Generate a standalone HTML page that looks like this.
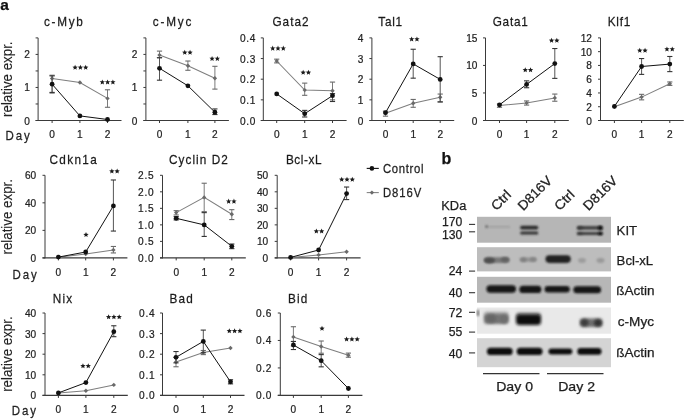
<!DOCTYPE html>
<html><head><meta charset="utf-8"><style>
html,body{margin:0;padding:0;background:#fff;}
body{width:685px;height:419px;overflow:hidden;}
svg{display:block;font-family:"Liberation Sans", sans-serif;will-change:transform;}
</style></head><body>
<svg width="685" height="419" viewBox="0 0 685 419">
<rect width="685" height="419" fill="#fff"/>
<line x1="38.1" y1="37.9" x2="38.1" y2="121.0" stroke="#3a3a3a" stroke-width="1"/>
<line x1="35.6" y1="120.5" x2="38.1" y2="120.5" stroke="#3a3a3a" stroke-width="1"/>
<line x1="35.6" y1="103.98" x2="38.1" y2="103.98" stroke="#3a3a3a" stroke-width="1"/>
<line x1="35.6" y1="87.46000000000001" x2="38.1" y2="87.46000000000001" stroke="#3a3a3a" stroke-width="1"/>
<line x1="35.6" y1="70.94" x2="38.1" y2="70.94" stroke="#3a3a3a" stroke-width="1"/>
<line x1="35.6" y1="54.42" x2="38.1" y2="54.42" stroke="#3a3a3a" stroke-width="1"/>
<line x1="35.6" y1="37.900000000000006" x2="38.1" y2="37.900000000000006" stroke="#3a3a3a" stroke-width="1"/>
<text transform="translate(29.80,124.50) scale(0.88,1)" font-size="11.5" text-anchor="end" fill="#222" stroke="#222" stroke-width="0.25">0</text>
<text transform="translate(29.80,91.46) scale(0.88,1)" font-size="11.5" text-anchor="end" fill="#222" stroke="#222" stroke-width="0.25">1</text>
<text transform="translate(29.80,58.42) scale(0.88,1)" font-size="11.5" text-anchor="end" fill="#222" stroke="#222" stroke-width="0.25">2</text>
<line x1="35.6" y1="120.5" x2="121.5" y2="120.5" stroke="#3a3a3a" stroke-width="1.2"/>
<line x1="52.1" y1="120.5" x2="52.1" y2="123.0" stroke="#3a3a3a" stroke-width="1"/>
<text transform="translate(52.1,138.30) scale(0.88,1)" font-size="11.5" text-anchor="middle" fill="#222" stroke="#222" stroke-width="0.25">0</text>
<line x1="79.9" y1="120.5" x2="79.9" y2="123.0" stroke="#3a3a3a" stroke-width="1"/>
<text transform="translate(79.9,138.30) scale(0.88,1)" font-size="11.5" text-anchor="middle" fill="#222" stroke="#222" stroke-width="0.25">1</text>
<line x1="107.5" y1="120.5" x2="107.5" y2="123.0" stroke="#3a3a3a" stroke-width="1"/>
<text transform="translate(107.5,138.30) scale(0.88,1)" font-size="11.5" text-anchor="middle" fill="#222" stroke="#222" stroke-width="0.25">2</text>
<text transform="translate(43.9,26) scale(0.87,1)" font-size="13.5" fill="#1a1a1a" stroke="#1a1a1a" stroke-width="0.25" textLength="44.83" lengthAdjust="spacing">c-Myb</text>
<polyline points="52.1,78.5 79.9,82.5 107.5,98.4" fill="none" stroke="#7e7e7e" stroke-width="1.05"/>
<line x1="52.1" y1="75.23519999999999" x2="52.1" y2="93.0768" stroke="#7a7a7a" stroke-width="1"/>
<line x1="49.5" y1="75.23519999999999" x2="54.7" y2="75.23519999999999" stroke="#6a6a6a" stroke-width="1.1"/>
<line x1="49.5" y1="93.0768" x2="54.7" y2="93.0768" stroke="#6a6a6a" stroke-width="1.1"/>
<line x1="107.5" y1="89.7728" x2="107.5" y2="107.28399999999999" stroke="#7a7a7a" stroke-width="1"/>
<line x1="104.9" y1="89.7728" x2="110.1" y2="89.7728" stroke="#6a6a6a" stroke-width="1.1"/>
<line x1="104.9" y1="107.28399999999999" x2="110.1" y2="107.28399999999999" stroke="#6a6a6a" stroke-width="1.1"/>
<path d="M49.9,78.5 L52.1,76.3 L54.300000000000004,78.5 L52.1,80.7 Z" fill="#6a6a6a"/>
<path d="M77.7,82.5 L79.9,80.3 L82.10000000000001,82.5 L79.9,84.7 Z" fill="#6a6a6a"/>
<path d="M105.3,98.4 L107.5,96.2 L109.7,98.4 L107.5,100.6 Z" fill="#6a6a6a"/>
<polyline points="52.1,84.2 79.9,115.9 107.5,119.5" fill="none" stroke="#111" stroke-width="1.0"/>
<line x1="52.1" y1="75.896" x2="52.1" y2="92.416" stroke="#555" stroke-width="1"/>
<line x1="49.5" y1="75.896" x2="54.7" y2="75.896" stroke="#333" stroke-width="1.1"/>
<line x1="49.5" y1="92.416" x2="54.7" y2="92.416" stroke="#333" stroke-width="1.1"/>
<circle cx="52.1" cy="84.2" r="2.4" fill="#111"/>
<circle cx="79.9" cy="115.9" r="2.4" fill="#111"/>
<circle cx="107.5" cy="119.5" r="2.4" fill="#111"/>
<polygon points="75.10,64.70 75.83,66.49 77.76,66.63 76.29,67.89 76.75,69.77 75.10,68.75 73.45,69.77 73.91,67.89 72.44,66.63 74.37,66.49" fill="#1a1a1a"/>
<polygon points="80.40,64.70 81.13,66.49 83.06,66.63 81.59,67.89 82.05,69.77 80.40,68.75 78.75,69.77 79.21,67.89 77.74,66.63 79.67,66.49" fill="#1a1a1a"/>
<polygon points="85.70,64.70 86.43,66.49 88.36,66.63 86.89,67.89 87.35,69.77 85.70,68.75 84.05,69.77 84.51,67.89 83.04,66.63 84.97,66.49" fill="#1a1a1a"/>
<polygon points="102.30,79.40 103.03,81.19 104.96,81.33 103.49,82.59 103.95,84.47 102.30,83.45 100.65,84.47 101.11,82.59 99.64,81.33 101.57,81.19" fill="#1a1a1a"/>
<polygon points="107.60,79.40 108.33,81.19 110.26,81.33 108.79,82.59 109.25,84.47 107.60,83.45 105.95,84.47 106.41,82.59 104.94,81.33 106.87,81.19" fill="#1a1a1a"/>
<polygon points="112.90,79.40 113.63,81.19 115.56,81.33 114.09,82.59 114.55,84.47 112.90,83.45 111.25,84.47 111.71,82.59 110.24,81.33 112.17,81.19" fill="#1a1a1a"/>
<line x1="145.9" y1="37.9" x2="145.9" y2="121.0" stroke="#3a3a3a" stroke-width="1"/>
<line x1="143.4" y1="120.5" x2="145.9" y2="120.5" stroke="#3a3a3a" stroke-width="1"/>
<line x1="143.4" y1="103.98" x2="145.9" y2="103.98" stroke="#3a3a3a" stroke-width="1"/>
<line x1="143.4" y1="87.46000000000001" x2="145.9" y2="87.46000000000001" stroke="#3a3a3a" stroke-width="1"/>
<line x1="143.4" y1="70.94" x2="145.9" y2="70.94" stroke="#3a3a3a" stroke-width="1"/>
<line x1="143.4" y1="54.42" x2="145.9" y2="54.42" stroke="#3a3a3a" stroke-width="1"/>
<line x1="143.4" y1="37.900000000000006" x2="145.9" y2="37.900000000000006" stroke="#3a3a3a" stroke-width="1"/>
<text transform="translate(137.50,124.50) scale(0.88,1)" font-size="11.5" text-anchor="end" fill="#222" stroke="#222" stroke-width="0.25">0</text>
<text transform="translate(137.50,91.46) scale(0.88,1)" font-size="11.5" text-anchor="end" fill="#222" stroke="#222" stroke-width="0.25">1</text>
<text transform="translate(137.50,58.42) scale(0.88,1)" font-size="11.5" text-anchor="end" fill="#222" stroke="#222" stroke-width="0.25">2</text>
<line x1="143.4" y1="120.5" x2="228.9" y2="120.5" stroke="#3a3a3a" stroke-width="1.2"/>
<line x1="159.5" y1="120.5" x2="159.5" y2="123.0" stroke="#3a3a3a" stroke-width="1"/>
<text transform="translate(159.5,138.30) scale(0.88,1)" font-size="11.5" text-anchor="middle" fill="#222" stroke="#222" stroke-width="0.25">0</text>
<line x1="187.9" y1="120.5" x2="187.9" y2="123.0" stroke="#3a3a3a" stroke-width="1"/>
<text transform="translate(187.9,138.30) scale(0.88,1)" font-size="11.5" text-anchor="middle" fill="#222" stroke="#222" stroke-width="0.25">1</text>
<line x1="214.9" y1="120.5" x2="214.9" y2="123.0" stroke="#3a3a3a" stroke-width="1"/>
<text transform="translate(214.9,138.30) scale(0.88,1)" font-size="11.5" text-anchor="middle" fill="#222" stroke="#222" stroke-width="0.25">2</text>
<text transform="translate(152.7,26) scale(0.87,1)" font-size="13.5" fill="#1a1a1a" stroke="#1a1a1a" stroke-width="0.25" textLength="44.37" lengthAdjust="spacing">c-Myc</text>
<polyline points="159.5,55.1 187.9,65.7 214.9,78.2" fill="none" stroke="#7e7e7e" stroke-width="1.05"/>
<line x1="159.5" y1="51.116" x2="159.5" y2="57.724000000000004" stroke="#7a7a7a" stroke-width="1"/>
<line x1="156.9" y1="51.116" x2="162.1" y2="51.116" stroke="#6a6a6a" stroke-width="1.1"/>
<line x1="156.9" y1="57.724000000000004" x2="162.1" y2="57.724000000000004" stroke="#6a6a6a" stroke-width="1.1"/>
<line x1="187.9" y1="61.028" x2="187.9" y2="70.2792" stroke="#7a7a7a" stroke-width="1"/>
<line x1="185.3" y1="61.028" x2="190.5" y2="61.028" stroke="#6a6a6a" stroke-width="1.1"/>
<line x1="185.3" y1="70.2792" x2="190.5" y2="70.2792" stroke="#6a6a6a" stroke-width="1.1"/>
<line x1="214.9" y1="66.3144" x2="214.9" y2="89.112" stroke="#7a7a7a" stroke-width="1"/>
<line x1="212.3" y1="66.3144" x2="217.5" y2="66.3144" stroke="#6a6a6a" stroke-width="1.1"/>
<line x1="212.3" y1="89.112" x2="217.5" y2="89.112" stroke="#6a6a6a" stroke-width="1.1"/>
<path d="M157.3,55.1 L159.5,52.9 L161.7,55.1 L159.5,57.3 Z" fill="#6a6a6a"/>
<path d="M185.70000000000002,65.7 L187.9,63.5 L190.1,65.7 L187.9,67.9 Z" fill="#6a6a6a"/>
<path d="M212.70000000000002,78.2 L214.9,76.0 L217.1,78.2 L214.9,80.4 Z" fill="#6a6a6a"/>
<polyline points="159.5,68.3 187.9,85.8 214.9,112.2" fill="none" stroke="#111" stroke-width="1.0"/>
<line x1="159.5" y1="57.724000000000004" x2="159.5" y2="80.19120000000001" stroke="#555" stroke-width="1"/>
<line x1="156.9" y1="57.724000000000004" x2="162.1" y2="57.724000000000004" stroke="#333" stroke-width="1.1"/>
<line x1="156.9" y1="80.19120000000001" x2="162.1" y2="80.19120000000001" stroke="#333" stroke-width="1.1"/>
<line x1="214.9" y1="108.936" x2="214.9" y2="114.5528" stroke="#555" stroke-width="1"/>
<line x1="212.3" y1="108.936" x2="217.5" y2="108.936" stroke="#333" stroke-width="1.1"/>
<line x1="212.3" y1="114.5528" x2="217.5" y2="114.5528" stroke="#333" stroke-width="1.1"/>
<circle cx="159.5" cy="68.3" r="2.4" fill="#111"/>
<circle cx="187.9" cy="85.8" r="2.4" fill="#111"/>
<circle cx="214.9" cy="112.2" r="2.4" fill="#111"/>
<polygon points="184.75,49.80 185.48,51.59 187.41,51.73 185.94,52.99 186.40,54.87 184.75,53.85 183.10,54.87 183.56,52.99 182.09,51.73 184.02,51.59" fill="#1a1a1a"/>
<polygon points="190.05,49.80 190.78,51.59 192.71,51.73 191.24,52.99 191.70,54.87 190.05,53.85 188.40,54.87 188.86,52.99 187.39,51.73 189.32,51.59" fill="#1a1a1a"/>
<polygon points="212.05,55.90 212.78,57.69 214.71,57.83 213.24,59.09 213.70,60.97 212.05,59.95 210.40,60.97 210.86,59.09 209.39,57.83 211.32,57.69" fill="#1a1a1a"/>
<polygon points="217.35,55.90 218.08,57.69 220.01,57.83 218.54,59.09 219.00,60.97 217.35,59.95 215.70,60.97 216.16,59.09 214.69,57.83 216.62,57.69" fill="#1a1a1a"/>
<line x1="263.3" y1="37.9" x2="263.3" y2="121.0" stroke="#3a3a3a" stroke-width="1"/>
<line x1="260.8" y1="120.5" x2="263.3" y2="120.5" stroke="#3a3a3a" stroke-width="1"/>
<line x1="260.8" y1="99.85" x2="263.3" y2="99.85" stroke="#3a3a3a" stroke-width="1"/>
<line x1="260.8" y1="79.2" x2="263.3" y2="79.2" stroke="#3a3a3a" stroke-width="1"/>
<line x1="260.8" y1="58.55000000000001" x2="263.3" y2="58.55000000000001" stroke="#3a3a3a" stroke-width="1"/>
<line x1="260.8" y1="37.900000000000006" x2="263.3" y2="37.900000000000006" stroke="#3a3a3a" stroke-width="1"/>
<text transform="translate(255.50,124.50) scale(0.88,1)" font-size="11.5" text-anchor="end" fill="#222" stroke="#222" stroke-width="0.25" textLength="17.73" lengthAdjust="spacing">0.0</text>
<text transform="translate(255.50,103.85) scale(0.88,1)" font-size="11.5" text-anchor="end" fill="#222" stroke="#222" stroke-width="0.25" textLength="17.73" lengthAdjust="spacing">0.1</text>
<text transform="translate(255.50,83.20) scale(0.88,1)" font-size="11.5" text-anchor="end" fill="#222" stroke="#222" stroke-width="0.25" textLength="17.73" lengthAdjust="spacing">0.2</text>
<text transform="translate(255.50,62.55) scale(0.88,1)" font-size="11.5" text-anchor="end" fill="#222" stroke="#222" stroke-width="0.25" textLength="17.73" lengthAdjust="spacing">0.3</text>
<text transform="translate(255.50,41.90) scale(0.88,1)" font-size="11.5" text-anchor="end" fill="#222" stroke="#222" stroke-width="0.25" textLength="17.73" lengthAdjust="spacing">0.4</text>
<line x1="260.8" y1="120.5" x2="346.6" y2="120.5" stroke="#3a3a3a" stroke-width="1.2"/>
<line x1="276.7" y1="120.5" x2="276.7" y2="123.0" stroke="#3a3a3a" stroke-width="1"/>
<text transform="translate(276.7,138.30) scale(0.88,1)" font-size="11.5" text-anchor="middle" fill="#222" stroke="#222" stroke-width="0.25">0</text>
<line x1="304.7" y1="120.5" x2="304.7" y2="123.0" stroke="#3a3a3a" stroke-width="1"/>
<text transform="translate(304.7,138.30) scale(0.88,1)" font-size="11.5" text-anchor="middle" fill="#222" stroke="#222" stroke-width="0.25">1</text>
<line x1="332.5" y1="120.5" x2="332.5" y2="123.0" stroke="#3a3a3a" stroke-width="1"/>
<text transform="translate(332.5,138.30) scale(0.88,1)" font-size="11.5" text-anchor="middle" fill="#222" stroke="#222" stroke-width="0.25">2</text>
<text transform="translate(272.40000000000003,26) scale(0.87,1)" font-size="13.5" fill="#1a1a1a" stroke="#1a1a1a" stroke-width="0.25" textLength="41.61" lengthAdjust="spacing">Gata2</text>
<polyline points="276.7,61.0 304.7,90.1 332.5,90.8" fill="none" stroke="#7e7e7e" stroke-width="1.05"/>
<line x1="276.7" y1="59.16950000000001" x2="276.7" y2="62.886500000000005" stroke="#7a7a7a" stroke-width="1"/>
<line x1="274.09999999999997" y1="59.16950000000001" x2="279.3" y2="59.16950000000001" stroke="#6a6a6a" stroke-width="1.1"/>
<line x1="274.09999999999997" y1="62.886500000000005" x2="279.3" y2="62.886500000000005" stroke="#6a6a6a" stroke-width="1.1"/>
<line x1="304.7" y1="83.1235" x2="304.7" y2="95.307" stroke="#7a7a7a" stroke-width="1"/>
<line x1="302.09999999999997" y1="83.1235" x2="307.3" y2="83.1235" stroke="#6a6a6a" stroke-width="1.1"/>
<line x1="302.09999999999997" y1="95.307" x2="307.3" y2="95.307" stroke="#6a6a6a" stroke-width="1.1"/>
<line x1="332.5" y1="82.09100000000001" x2="332.5" y2="99.85" stroke="#7a7a7a" stroke-width="1"/>
<line x1="329.9" y1="82.09100000000001" x2="335.1" y2="82.09100000000001" stroke="#6a6a6a" stroke-width="1.1"/>
<line x1="329.9" y1="99.85" x2="335.1" y2="99.85" stroke="#6a6a6a" stroke-width="1.1"/>
<path d="M274.5,61.0 L276.7,58.8 L278.9,61.0 L276.7,63.2 Z" fill="#6a6a6a"/>
<path d="M302.5,90.1 L304.7,87.9 L306.9,90.1 L304.7,92.3 Z" fill="#6a6a6a"/>
<path d="M330.3,90.8 L332.5,88.6 L334.7,90.8 L332.5,93.0 Z" fill="#6a6a6a"/>
<polyline points="276.7,93.9 304.7,113.7 332.5,95.7" fill="none" stroke="#111" stroke-width="1.0"/>
<line x1="304.7" y1="110.3815" x2="304.7" y2="116.9895" stroke="#555" stroke-width="1"/>
<line x1="302.09999999999997" y1="110.3815" x2="307.3" y2="110.3815" stroke="#333" stroke-width="1.1"/>
<line x1="302.09999999999997" y1="116.9895" x2="307.3" y2="116.9895" stroke="#333" stroke-width="1.1"/>
<line x1="332.5" y1="93.655" x2="332.5" y2="101.50200000000001" stroke="#555" stroke-width="1"/>
<line x1="329.9" y1="93.655" x2="335.1" y2="93.655" stroke="#333" stroke-width="1.1"/>
<line x1="329.9" y1="101.50200000000001" x2="335.1" y2="101.50200000000001" stroke="#333" stroke-width="1.1"/>
<circle cx="276.7" cy="93.9" r="2.4" fill="#111"/>
<circle cx="304.7" cy="113.7" r="2.4" fill="#111"/>
<circle cx="332.5" cy="95.7" r="2.4" fill="#111"/>
<polygon points="272.70,45.60 273.43,47.39 275.36,47.53 273.89,48.79 274.35,50.67 272.70,49.65 271.05,50.67 271.51,48.79 270.04,47.53 271.97,47.39" fill="#1a1a1a"/>
<polygon points="278.00,45.60 278.73,47.39 280.66,47.53 279.19,48.79 279.65,50.67 278.00,49.65 276.35,50.67 276.81,48.79 275.34,47.53 277.27,47.39" fill="#1a1a1a"/>
<polygon points="283.30,45.60 284.03,47.39 285.96,47.53 284.49,48.79 284.95,50.67 283.30,49.65 281.65,50.67 282.11,48.79 280.64,47.53 282.57,47.39" fill="#1a1a1a"/>
<polygon points="303.15,69.70 303.88,71.49 305.81,71.63 304.34,72.89 304.80,74.77 303.15,73.75 301.50,74.77 301.96,72.89 300.49,71.63 302.42,71.49" fill="#1a1a1a"/>
<polygon points="308.45,69.70 309.18,71.49 311.11,71.63 309.64,72.89 310.10,74.77 308.45,73.75 306.80,74.77 307.26,72.89 305.79,71.63 307.72,71.49" fill="#1a1a1a"/>
<line x1="371.9" y1="37.9" x2="371.9" y2="121.0" stroke="#3a3a3a" stroke-width="1"/>
<line x1="369.4" y1="120.5" x2="371.9" y2="120.5" stroke="#3a3a3a" stroke-width="1"/>
<line x1="369.4" y1="99.85" x2="371.9" y2="99.85" stroke="#3a3a3a" stroke-width="1"/>
<line x1="369.4" y1="79.2" x2="371.9" y2="79.2" stroke="#3a3a3a" stroke-width="1"/>
<line x1="369.4" y1="58.550000000000004" x2="371.9" y2="58.550000000000004" stroke="#3a3a3a" stroke-width="1"/>
<line x1="369.4" y1="37.900000000000006" x2="371.9" y2="37.900000000000006" stroke="#3a3a3a" stroke-width="1"/>
<text transform="translate(363.40,124.50) scale(0.88,1)" font-size="11.5" text-anchor="end" fill="#222" stroke="#222" stroke-width="0.25">0</text>
<text transform="translate(363.40,103.85) scale(0.88,1)" font-size="11.5" text-anchor="end" fill="#222" stroke="#222" stroke-width="0.25">1</text>
<text transform="translate(363.40,83.20) scale(0.88,1)" font-size="11.5" text-anchor="end" fill="#222" stroke="#222" stroke-width="0.25">2</text>
<text transform="translate(363.40,62.55) scale(0.88,1)" font-size="11.5" text-anchor="end" fill="#222" stroke="#222" stroke-width="0.25">3</text>
<text transform="translate(363.40,41.90) scale(0.88,1)" font-size="11.5" text-anchor="end" fill="#222" stroke="#222" stroke-width="0.25">4</text>
<line x1="369.4" y1="120.5" x2="454.2" y2="120.5" stroke="#3a3a3a" stroke-width="1.2"/>
<line x1="385.5" y1="120.5" x2="385.5" y2="123.0" stroke="#3a3a3a" stroke-width="1"/>
<text transform="translate(385.5,138.30) scale(0.88,1)" font-size="11.5" text-anchor="middle" fill="#222" stroke="#222" stroke-width="0.25">0</text>
<line x1="413.2" y1="120.5" x2="413.2" y2="123.0" stroke="#3a3a3a" stroke-width="1"/>
<text transform="translate(413.2,138.30) scale(0.88,1)" font-size="11.5" text-anchor="middle" fill="#222" stroke="#222" stroke-width="0.25">1</text>
<line x1="440.2" y1="120.5" x2="440.2" y2="123.0" stroke="#3a3a3a" stroke-width="1"/>
<text transform="translate(440.2,138.30) scale(0.88,1)" font-size="11.5" text-anchor="middle" fill="#222" stroke="#222" stroke-width="0.25">2</text>
<text transform="translate(378.3,26) scale(0.87,1)" font-size="13.5" fill="#1a1a1a" stroke="#1a1a1a" stroke-width="0.25" textLength="27.24" lengthAdjust="spacing">Tal1</text>
<polyline points="385.5,113.3 413.2,103.2 440.2,97.2" fill="none" stroke="#7e7e7e" stroke-width="1.05"/>
<line x1="385.5" y1="111.2075" x2="385.5" y2="116.1635" stroke="#7a7a7a" stroke-width="1"/>
<line x1="382.9" y1="111.2075" x2="388.1" y2="111.2075" stroke="#6a6a6a" stroke-width="1.1"/>
<line x1="382.9" y1="116.1635" x2="388.1" y2="116.1635" stroke="#6a6a6a" stroke-width="1.1"/>
<line x1="413.2" y1="99.437" x2="413.2" y2="107.284" stroke="#7a7a7a" stroke-width="1"/>
<line x1="410.59999999999997" y1="99.437" x2="415.8" y2="99.437" stroke="#6a6a6a" stroke-width="1.1"/>
<line x1="410.59999999999997" y1="107.284" x2="415.8" y2="107.284" stroke="#6a6a6a" stroke-width="1.1"/>
<line x1="440.2" y1="94.068" x2="440.2" y2="101.91499999999999" stroke="#7a7a7a" stroke-width="1"/>
<line x1="437.59999999999997" y1="94.068" x2="442.8" y2="94.068" stroke="#6a6a6a" stroke-width="1.1"/>
<line x1="437.59999999999997" y1="101.91499999999999" x2="442.8" y2="101.91499999999999" stroke="#6a6a6a" stroke-width="1.1"/>
<path d="M383.3,113.3 L385.5,111.1 L387.7,113.3 L385.5,115.5 Z" fill="#6a6a6a"/>
<path d="M411.0,103.2 L413.2,101.0 L415.4,103.2 L413.2,105.4 Z" fill="#6a6a6a"/>
<path d="M438.0,97.2 L440.2,95.0 L442.4,97.2 L440.2,99.4 Z" fill="#6a6a6a"/>
<polyline points="385.5,112.7 413.2,63.9 440.2,79.4" fill="none" stroke="#111" stroke-width="1.0"/>
<line x1="413.2" y1="49.25750000000001" x2="413.2" y2="78.1675" stroke="#555" stroke-width="1"/>
<line x1="410.59999999999997" y1="49.25750000000001" x2="415.8" y2="49.25750000000001" stroke="#333" stroke-width="1.1"/>
<line x1="410.59999999999997" y1="78.1675" x2="415.8" y2="78.1675" stroke="#333" stroke-width="1.1"/>
<line x1="440.2" y1="56.691500000000005" x2="440.2" y2="101.91499999999999" stroke="#555" stroke-width="1"/>
<line x1="437.59999999999997" y1="56.691500000000005" x2="442.8" y2="56.691500000000005" stroke="#333" stroke-width="1.1"/>
<line x1="437.59999999999997" y1="101.91499999999999" x2="442.8" y2="101.91499999999999" stroke="#333" stroke-width="1.1"/>
<circle cx="385.5" cy="112.7" r="2.4" fill="#111"/>
<circle cx="413.2" cy="63.9" r="2.4" fill="#111"/>
<circle cx="440.2" cy="79.4" r="2.4" fill="#111"/>
<polygon points="411.65,36.40 412.38,38.19 414.31,38.33 412.84,39.59 413.30,41.47 411.65,40.45 410.00,41.47 410.46,39.59 408.99,38.33 410.92,38.19" fill="#1a1a1a"/>
<polygon points="416.95,36.40 417.68,38.19 419.61,38.33 418.14,39.59 418.60,41.47 416.95,40.45 415.30,41.47 415.76,39.59 414.29,38.33 416.22,38.19" fill="#1a1a1a"/>
<line x1="485.5" y1="37.9" x2="485.5" y2="121.0" stroke="#3a3a3a" stroke-width="1"/>
<line x1="483.0" y1="120.5" x2="485.5" y2="120.5" stroke="#3a3a3a" stroke-width="1"/>
<line x1="483.0" y1="92.96666666666667" x2="485.5" y2="92.96666666666667" stroke="#3a3a3a" stroke-width="1"/>
<line x1="483.0" y1="65.43333333333334" x2="485.5" y2="65.43333333333334" stroke="#3a3a3a" stroke-width="1"/>
<line x1="483.0" y1="37.900000000000006" x2="485.5" y2="37.900000000000006" stroke="#3a3a3a" stroke-width="1"/>
<text transform="translate(477.40,124.50) scale(0.88,1)" font-size="11.5" text-anchor="end" fill="#222" stroke="#222" stroke-width="0.25">0</text>
<text transform="translate(477.40,96.97) scale(0.88,1)" font-size="11.5" text-anchor="end" fill="#222" stroke="#222" stroke-width="0.25">5</text>
<text transform="translate(477.40,69.43) scale(0.88,1)" font-size="11.5" text-anchor="end" fill="#222" stroke="#222" stroke-width="0.25">10</text>
<text transform="translate(477.40,41.90) scale(0.88,1)" font-size="11.5" text-anchor="end" fill="#222" stroke="#222" stroke-width="0.25">15</text>
<line x1="483.0" y1="120.5" x2="568.8" y2="120.5" stroke="#3a3a3a" stroke-width="1.2"/>
<line x1="499.5" y1="120.5" x2="499.5" y2="123.0" stroke="#3a3a3a" stroke-width="1"/>
<text transform="translate(499.5,138.30) scale(0.88,1)" font-size="11.5" text-anchor="middle" fill="#222" stroke="#222" stroke-width="0.25">0</text>
<line x1="526.6" y1="120.5" x2="526.6" y2="123.0" stroke="#3a3a3a" stroke-width="1"/>
<text transform="translate(526.6,138.30) scale(0.88,1)" font-size="11.5" text-anchor="middle" fill="#222" stroke="#222" stroke-width="0.25">1</text>
<line x1="554.8" y1="120.5" x2="554.8" y2="123.0" stroke="#3a3a3a" stroke-width="1"/>
<text transform="translate(554.8,138.30) scale(0.88,1)" font-size="11.5" text-anchor="middle" fill="#222" stroke="#222" stroke-width="0.25">2</text>
<text transform="translate(492.70000000000005,26) scale(0.87,1)" font-size="13.5" fill="#1a1a1a" stroke="#1a1a1a" stroke-width="0.25" textLength="40.34" lengthAdjust="spacing">Gata1</text>
<polyline points="499.5,105.6 526.6,102.9 554.8,97.9" fill="none" stroke="#7e7e7e" stroke-width="1.05"/>
<line x1="499.5" y1="103.98" x2="499.5" y2="107.284" stroke="#7a7a7a" stroke-width="1"/>
<line x1="496.9" y1="103.98" x2="502.1" y2="103.98" stroke="#6a6a6a" stroke-width="1.1"/>
<line x1="496.9" y1="107.284" x2="502.1" y2="107.284" stroke="#6a6a6a" stroke-width="1.1"/>
<line x1="526.6" y1="100.95133333333334" x2="526.6" y2="105.08133333333333" stroke="#7a7a7a" stroke-width="1"/>
<line x1="524.0" y1="100.95133333333334" x2="529.2" y2="100.95133333333334" stroke="#6a6a6a" stroke-width="1.1"/>
<line x1="524.0" y1="105.08133333333333" x2="529.2" y2="105.08133333333333" stroke="#6a6a6a" stroke-width="1.1"/>
<line x1="554.8" y1="94.06800000000001" x2="554.8" y2="101.22666666666667" stroke="#7a7a7a" stroke-width="1"/>
<line x1="552.1999999999999" y1="94.06800000000001" x2="557.4" y2="94.06800000000001" stroke="#6a6a6a" stroke-width="1.1"/>
<line x1="552.1999999999999" y1="101.22666666666667" x2="557.4" y2="101.22666666666667" stroke="#6a6a6a" stroke-width="1.1"/>
<path d="M497.3,105.6 L499.5,103.4 L501.7,105.6 L499.5,107.8 Z" fill="#6a6a6a"/>
<path d="M524.4,102.9 L526.6,100.7 L528.8000000000001,102.9 L526.6,105.1 Z" fill="#6a6a6a"/>
<path d="M552.5999999999999,97.9 L554.8,95.7 L557.0,97.9 L554.8,100.1 Z" fill="#6a6a6a"/>
<polyline points="499.5,104.8 526.6,84.4 554.8,63.6" fill="none" stroke="#111" stroke-width="1.0"/>
<line x1="526.6" y1="80.852" x2="526.6" y2="87.73533333333333" stroke="#555" stroke-width="1"/>
<line x1="524.0" y1="80.852" x2="529.2" y2="80.852" stroke="#333" stroke-width="1.1"/>
<line x1="524.0" y1="87.73533333333333" x2="529.2" y2="87.73533333333333" stroke="#333" stroke-width="1.1"/>
<line x1="554.8" y1="48.52786666666667" x2="554.8" y2="78.374" stroke="#555" stroke-width="1"/>
<line x1="552.1999999999999" y1="48.52786666666667" x2="557.4" y2="48.52786666666667" stroke="#333" stroke-width="1.1"/>
<line x1="552.1999999999999" y1="78.374" x2="557.4" y2="78.374" stroke="#333" stroke-width="1.1"/>
<circle cx="499.5" cy="104.8" r="2.4" fill="#111"/>
<circle cx="526.6" cy="84.4" r="2.4" fill="#111"/>
<circle cx="554.8" cy="63.6" r="2.4" fill="#111"/>
<polygon points="525.25,67.30 525.98,69.09 527.91,69.23 526.44,70.49 526.90,72.37 525.25,71.35 523.60,72.37 524.06,70.49 522.59,69.23 524.52,69.09" fill="#1a1a1a"/>
<polygon points="530.55,67.30 531.28,69.09 533.21,69.23 531.74,70.49 532.20,72.37 530.55,71.35 528.90,72.37 529.36,70.49 527.89,69.23 529.82,69.09" fill="#1a1a1a"/>
<polygon points="551.55,37.80 552.28,39.59 554.21,39.73 552.74,40.99 553.20,42.87 551.55,41.85 549.90,42.87 550.36,40.99 548.89,39.73 550.82,39.59" fill="#1a1a1a"/>
<polygon points="556.85,37.80 557.58,39.59 559.51,39.73 558.04,40.99 558.50,42.87 556.85,41.85 555.20,42.87 555.66,40.99 554.19,39.73 556.12,39.59" fill="#1a1a1a"/>
<line x1="600.5" y1="37.9" x2="600.5" y2="121.0" stroke="#3a3a3a" stroke-width="1"/>
<line x1="598.0" y1="120.5" x2="600.5" y2="120.5" stroke="#3a3a3a" stroke-width="1"/>
<line x1="598.0" y1="106.73333333333333" x2="600.5" y2="106.73333333333333" stroke="#3a3a3a" stroke-width="1"/>
<line x1="598.0" y1="92.96666666666667" x2="600.5" y2="92.96666666666667" stroke="#3a3a3a" stroke-width="1"/>
<line x1="598.0" y1="79.2" x2="600.5" y2="79.2" stroke="#3a3a3a" stroke-width="1"/>
<line x1="598.0" y1="65.43333333333334" x2="600.5" y2="65.43333333333334" stroke="#3a3a3a" stroke-width="1"/>
<line x1="598.0" y1="51.66666666666667" x2="600.5" y2="51.66666666666667" stroke="#3a3a3a" stroke-width="1"/>
<line x1="598.0" y1="37.900000000000006" x2="600.5" y2="37.900000000000006" stroke="#3a3a3a" stroke-width="1"/>
<text transform="translate(592.00,124.50) scale(0.88,1)" font-size="11.5" text-anchor="end" fill="#222" stroke="#222" stroke-width="0.25">0</text>
<text transform="translate(592.00,110.73) scale(0.88,1)" font-size="11.5" text-anchor="end" fill="#222" stroke="#222" stroke-width="0.25">2</text>
<text transform="translate(592.00,96.97) scale(0.88,1)" font-size="11.5" text-anchor="end" fill="#222" stroke="#222" stroke-width="0.25">4</text>
<text transform="translate(592.00,83.20) scale(0.88,1)" font-size="11.5" text-anchor="end" fill="#222" stroke="#222" stroke-width="0.25">6</text>
<text transform="translate(592.00,69.43) scale(0.88,1)" font-size="11.5" text-anchor="end" fill="#222" stroke="#222" stroke-width="0.25">8</text>
<text transform="translate(592.00,55.67) scale(0.88,1)" font-size="11.5" text-anchor="end" fill="#222" stroke="#222" stroke-width="0.25">10</text>
<text transform="translate(592.00,41.90) scale(0.88,1)" font-size="11.5" text-anchor="end" fill="#222" stroke="#222" stroke-width="0.25">12</text>
<line x1="598.0" y1="120.5" x2="683.8" y2="120.5" stroke="#3a3a3a" stroke-width="1.2"/>
<line x1="614.4" y1="120.5" x2="614.4" y2="123.0" stroke="#3a3a3a" stroke-width="1"/>
<text transform="translate(614.4,138.30) scale(0.88,1)" font-size="11.5" text-anchor="middle" fill="#222" stroke="#222" stroke-width="0.25">0</text>
<line x1="641.6" y1="120.5" x2="641.6" y2="123.0" stroke="#3a3a3a" stroke-width="1"/>
<text transform="translate(641.6,138.30) scale(0.88,1)" font-size="11.5" text-anchor="middle" fill="#222" stroke="#222" stroke-width="0.25">1</text>
<line x1="669.8" y1="120.5" x2="669.8" y2="123.0" stroke="#3a3a3a" stroke-width="1"/>
<text transform="translate(669.8,138.30) scale(0.88,1)" font-size="11.5" text-anchor="middle" fill="#222" stroke="#222" stroke-width="0.25">2</text>
<text transform="translate(607.7,26) scale(0.87,1)" font-size="13.5" fill="#1a1a1a" stroke="#1a1a1a" stroke-width="0.25" textLength="25.86" lengthAdjust="spacing">Klf1</text>
<polyline points="614.4,106.7 641.6,97.1 669.8,83.7" fill="none" stroke="#7e7e7e" stroke-width="1.05"/>
<line x1="641.6" y1="94.34333333333333" x2="641.6" y2="99.85" stroke="#7a7a7a" stroke-width="1"/>
<line x1="639.0" y1="94.34333333333333" x2="644.2" y2="94.34333333333333" stroke="#6a6a6a" stroke-width="1.1"/>
<line x1="639.0" y1="99.85" x2="644.2" y2="99.85" stroke="#6a6a6a" stroke-width="1.1"/>
<line x1="669.8" y1="81.95333333333335" x2="669.8" y2="85.39500000000001" stroke="#7a7a7a" stroke-width="1"/>
<line x1="667.1999999999999" y1="81.95333333333335" x2="672.4" y2="81.95333333333335" stroke="#6a6a6a" stroke-width="1.1"/>
<line x1="667.1999999999999" y1="85.39500000000001" x2="672.4" y2="85.39500000000001" stroke="#6a6a6a" stroke-width="1.1"/>
<path d="M612.1999999999999,106.7 L614.4,104.5 L616.6,106.7 L614.4,108.9 Z" fill="#6a6a6a"/>
<path d="M639.4,97.1 L641.6,94.9 L643.8000000000001,97.1 L641.6,99.3 Z" fill="#6a6a6a"/>
<path d="M667.5999999999999,83.7 L669.8,81.5 L672.0,83.7 L669.8,85.9 Z" fill="#6a6a6a"/>
<polyline points="614.4,106.4 641.6,66.5 669.8,64.1" fill="none" stroke="#111" stroke-width="1.0"/>
<line x1="641.6" y1="58.550000000000004" x2="641.6" y2="74.38166666666666" stroke="#555" stroke-width="1"/>
<line x1="639.0" y1="58.550000000000004" x2="644.2" y2="58.550000000000004" stroke="#333" stroke-width="1.1"/>
<line x1="639.0" y1="74.38166666666666" x2="644.2" y2="74.38166666666666" stroke="#333" stroke-width="1.1"/>
<line x1="669.8" y1="56.485" x2="669.8" y2="71.62833333333333" stroke="#555" stroke-width="1"/>
<line x1="667.1999999999999" y1="56.485" x2="672.4" y2="56.485" stroke="#333" stroke-width="1.1"/>
<line x1="667.1999999999999" y1="71.62833333333333" x2="672.4" y2="71.62833333333333" stroke="#333" stroke-width="1.1"/>
<circle cx="614.4" cy="106.4" r="2.4" fill="#111"/>
<circle cx="641.6" cy="66.5" r="2.4" fill="#111"/>
<circle cx="669.8" cy="64.1" r="2.4" fill="#111"/>
<polygon points="639.75,47.80 640.48,49.59 642.41,49.73 640.94,50.99 641.40,52.87 639.75,51.85 638.10,52.87 638.56,50.99 637.09,49.73 639.02,49.59" fill="#1a1a1a"/>
<polygon points="645.05,47.80 645.78,49.59 647.71,49.73 646.24,50.99 646.70,52.87 645.05,51.85 643.40,52.87 643.86,50.99 642.39,49.73 644.32,49.59" fill="#1a1a1a"/>
<polygon points="666.95,46.40 667.68,48.19 669.61,48.33 668.14,49.59 668.60,51.47 666.95,50.45 665.30,51.47 665.76,49.59 664.29,48.33 666.22,48.19" fill="#1a1a1a"/>
<polygon points="672.25,46.40 672.98,48.19 674.91,48.33 673.44,49.59 673.90,51.47 672.25,50.45 670.60,51.47 671.06,49.59 669.59,48.33 671.52,48.19" fill="#1a1a1a"/>
<line x1="45" y1="175.3" x2="45" y2="258.4" stroke="#3a3a3a" stroke-width="1"/>
<line x1="42.5" y1="257.9" x2="45" y2="257.9" stroke="#3a3a3a" stroke-width="1"/>
<line x1="42.5" y1="230.36666666666665" x2="45" y2="230.36666666666665" stroke="#3a3a3a" stroke-width="1"/>
<line x1="42.5" y1="202.83333333333334" x2="45" y2="202.83333333333334" stroke="#3a3a3a" stroke-width="1"/>
<line x1="42.5" y1="175.3" x2="45" y2="175.3" stroke="#3a3a3a" stroke-width="1"/>
<text transform="translate(36.20,261.90) scale(0.88,1)" font-size="11.5" text-anchor="end" fill="#222" stroke="#222" stroke-width="0.25">0</text>
<text transform="translate(36.20,234.37) scale(0.88,1)" font-size="11.5" text-anchor="end" fill="#222" stroke="#222" stroke-width="0.25">20</text>
<text transform="translate(36.20,206.83) scale(0.88,1)" font-size="11.5" text-anchor="end" fill="#222" stroke="#222" stroke-width="0.25">40</text>
<text transform="translate(36.20,179.30) scale(0.88,1)" font-size="11.5" text-anchor="end" fill="#222" stroke="#222" stroke-width="0.25">60</text>
<line x1="42.5" y1="257.9" x2="127.4" y2="257.9" stroke="#3a3a3a" stroke-width="1.2"/>
<line x1="58.4" y1="257.9" x2="58.4" y2="260.4" stroke="#3a3a3a" stroke-width="1"/>
<text transform="translate(58.4,275.70) scale(0.88,1)" font-size="11.5" text-anchor="middle" fill="#222" stroke="#222" stroke-width="0.25">0</text>
<line x1="85.7" y1="257.9" x2="85.7" y2="260.4" stroke="#3a3a3a" stroke-width="1"/>
<text transform="translate(85.7,275.70) scale(0.88,1)" font-size="11.5" text-anchor="middle" fill="#222" stroke="#222" stroke-width="0.25">1</text>
<line x1="113.4" y1="257.9" x2="113.4" y2="260.4" stroke="#3a3a3a" stroke-width="1"/>
<text transform="translate(113.4,275.70) scale(0.88,1)" font-size="11.5" text-anchor="middle" fill="#222" stroke="#222" stroke-width="0.25">2</text>
<text transform="translate(49.5,164.1) scale(0.87,1)" font-size="13.5" fill="#1a1a1a" stroke="#1a1a1a" stroke-width="0.25" textLength="54.25" lengthAdjust="spacing">Cdkn1a</text>
<polyline points="58.4,257.2 85.7,254.0 113.4,249.9" fill="none" stroke="#7e7e7e" stroke-width="1.05"/>
<line x1="113.4" y1="246.47366666666665" x2="113.4" y2="252.944" stroke="#7a7a7a" stroke-width="1"/>
<line x1="110.80000000000001" y1="246.47366666666665" x2="116.0" y2="246.47366666666665" stroke="#6a6a6a" stroke-width="1.1"/>
<line x1="110.80000000000001" y1="252.944" x2="116.0" y2="252.944" stroke="#6a6a6a" stroke-width="1.1"/>
<path d="M56.199999999999996,257.2 L58.4,255.0 L60.6,257.2 L58.4,259.4 Z" fill="#6a6a6a"/>
<path d="M83.5,254.0 L85.7,251.8 L87.9,254.0 L85.7,256.2 Z" fill="#6a6a6a"/>
<path d="M111.2,249.9 L113.4,247.7 L115.60000000000001,249.9 L113.4,252.1 Z" fill="#6a6a6a"/>
<polyline points="58.4,257.1 85.7,252.0 113.4,205.9" fill="none" stroke="#111" stroke-width="1.0"/>
<line x1="113.4" y1="179.98066666666668" x2="113.4" y2="231.05499999999998" stroke="#555" stroke-width="1"/>
<line x1="110.80000000000001" y1="179.98066666666668" x2="116.0" y2="179.98066666666668" stroke="#333" stroke-width="1.1"/>
<line x1="110.80000000000001" y1="231.05499999999998" x2="116.0" y2="231.05499999999998" stroke="#333" stroke-width="1.1"/>
<circle cx="58.4" cy="257.1" r="2.4" fill="#111"/>
<circle cx="85.7" cy="252.0" r="2.4" fill="#111"/>
<circle cx="113.4" cy="205.9" r="2.4" fill="#111"/>
<polygon points="86.00,232.00 86.73,233.79 88.66,233.93 87.19,235.19 87.65,237.07 86.00,236.05 84.35,237.07 84.81,235.19 83.34,233.93 85.27,233.79" fill="#1a1a1a"/>
<polygon points="111.85,168.50 112.58,170.29 114.51,170.43 113.04,171.69 113.50,173.57 111.85,172.55 110.20,173.57 110.66,171.69 109.19,170.43 111.12,170.29" fill="#1a1a1a"/>
<polygon points="117.15,168.50 117.88,170.29 119.81,170.43 118.34,171.69 118.80,173.57 117.15,172.55 115.50,173.57 115.96,171.69 114.49,170.43 116.42,170.29" fill="#1a1a1a"/>
<line x1="162.5" y1="175.3" x2="162.5" y2="258.4" stroke="#3a3a3a" stroke-width="1"/>
<line x1="160.0" y1="257.9" x2="162.5" y2="257.9" stroke="#3a3a3a" stroke-width="1"/>
<line x1="160.0" y1="241.38" x2="162.5" y2="241.38" stroke="#3a3a3a" stroke-width="1"/>
<line x1="160.0" y1="224.85999999999999" x2="162.5" y2="224.85999999999999" stroke="#3a3a3a" stroke-width="1"/>
<line x1="160.0" y1="208.34" x2="162.5" y2="208.34" stroke="#3a3a3a" stroke-width="1"/>
<line x1="160.0" y1="191.82" x2="162.5" y2="191.82" stroke="#3a3a3a" stroke-width="1"/>
<line x1="160.0" y1="175.3" x2="162.5" y2="175.3" stroke="#3a3a3a" stroke-width="1"/>
<text transform="translate(153.60,261.90) scale(0.88,1)" font-size="11.5" text-anchor="end" fill="#222" stroke="#222" stroke-width="0.25" textLength="17.73" lengthAdjust="spacing">0.0</text>
<text transform="translate(153.60,245.38) scale(0.88,1)" font-size="11.5" text-anchor="end" fill="#222" stroke="#222" stroke-width="0.25" textLength="17.73" lengthAdjust="spacing">0.5</text>
<text transform="translate(153.60,228.86) scale(0.88,1)" font-size="11.5" text-anchor="end" fill="#222" stroke="#222" stroke-width="0.25" textLength="17.73" lengthAdjust="spacing">1.0</text>
<text transform="translate(153.60,212.34) scale(0.88,1)" font-size="11.5" text-anchor="end" fill="#222" stroke="#222" stroke-width="0.25" textLength="17.73" lengthAdjust="spacing">1.5</text>
<text transform="translate(153.60,195.82) scale(0.88,1)" font-size="11.5" text-anchor="end" fill="#222" stroke="#222" stroke-width="0.25" textLength="17.73" lengthAdjust="spacing">2.0</text>
<text transform="translate(153.60,179.30) scale(0.88,1)" font-size="11.5" text-anchor="end" fill="#222" stroke="#222" stroke-width="0.25" textLength="17.73" lengthAdjust="spacing">2.5</text>
<line x1="160.0" y1="257.9" x2="245.8" y2="257.9" stroke="#3a3a3a" stroke-width="1.2"/>
<line x1="176.2" y1="257.9" x2="176.2" y2="260.4" stroke="#3a3a3a" stroke-width="1"/>
<text transform="translate(176.2,275.70) scale(0.88,1)" font-size="11.5" text-anchor="middle" fill="#222" stroke="#222" stroke-width="0.25">0</text>
<line x1="204.2" y1="257.9" x2="204.2" y2="260.4" stroke="#3a3a3a" stroke-width="1"/>
<text transform="translate(204.2,275.70) scale(0.88,1)" font-size="11.5" text-anchor="middle" fill="#222" stroke="#222" stroke-width="0.25">1</text>
<line x1="231.8" y1="257.9" x2="231.8" y2="260.4" stroke="#3a3a3a" stroke-width="1"/>
<text transform="translate(231.8,275.70) scale(0.88,1)" font-size="11.5" text-anchor="middle" fill="#222" stroke="#222" stroke-width="0.25">2</text>
<text transform="translate(169.0,164.2) scale(0.87,1)" font-size="13.5" fill="#1a1a1a" stroke="#1a1a1a" stroke-width="0.25" textLength="67.47" lengthAdjust="spacing">Cyclin D2</text>
<polyline points="176.2,212.6 204.2,197.4 231.8,214.3" fill="none" stroke="#7e7e7e" stroke-width="1.05"/>
<line x1="176.2" y1="210.6528" x2="176.2" y2="214.94799999999998" stroke="#7a7a7a" stroke-width="1"/>
<line x1="173.6" y1="210.6528" x2="178.79999999999998" y2="210.6528" stroke="#6a6a6a" stroke-width="1.1"/>
<line x1="173.6" y1="214.94799999999998" x2="178.79999999999998" y2="214.94799999999998" stroke="#6a6a6a" stroke-width="1.1"/>
<line x1="204.2" y1="183.2296" x2="204.2" y2="211.644" stroke="#7a7a7a" stroke-width="1"/>
<line x1="201.6" y1="183.2296" x2="206.79999999999998" y2="183.2296" stroke="#6a6a6a" stroke-width="1.1"/>
<line x1="201.6" y1="211.644" x2="206.79999999999998" y2="211.644" stroke="#6a6a6a" stroke-width="1.1"/>
<line x1="231.8" y1="209.6616" x2="231.8" y2="219.5736" stroke="#7a7a7a" stroke-width="1"/>
<line x1="229.20000000000002" y1="209.6616" x2="234.4" y2="209.6616" stroke="#6a6a6a" stroke-width="1.1"/>
<line x1="229.20000000000002" y1="219.5736" x2="234.4" y2="219.5736" stroke="#6a6a6a" stroke-width="1.1"/>
<path d="M174.0,212.6 L176.2,210.4 L178.39999999999998,212.6 L176.2,214.8 Z" fill="#6a6a6a"/>
<path d="M202.0,197.4 L204.2,195.2 L206.39999999999998,197.4 L204.2,199.6 Z" fill="#6a6a6a"/>
<path d="M229.60000000000002,214.3 L231.8,212.1 L234.0,214.3 L231.8,216.5 Z" fill="#6a6a6a"/>
<polyline points="176.2,218.3 204.2,224.9 231.8,246.3" fill="none" stroke="#111" stroke-width="1.0"/>
<line x1="176.2" y1="216.6" x2="176.2" y2="219.904" stroke="#555" stroke-width="1"/>
<line x1="173.6" y1="216.6" x2="178.79999999999998" y2="216.6" stroke="#333" stroke-width="1.1"/>
<line x1="173.6" y1="219.904" x2="178.79999999999998" y2="219.904" stroke="#333" stroke-width="1.1"/>
<line x1="204.2" y1="212.6352" x2="204.2" y2="236.42399999999998" stroke="#555" stroke-width="1"/>
<line x1="201.6" y1="212.6352" x2="206.79999999999998" y2="212.6352" stroke="#333" stroke-width="1.1"/>
<line x1="201.6" y1="236.42399999999998" x2="206.79999999999998" y2="236.42399999999998" stroke="#333" stroke-width="1.1"/>
<line x1="231.8" y1="244.02319999999997" x2="231.8" y2="248.6488" stroke="#555" stroke-width="1"/>
<line x1="229.20000000000002" y1="244.02319999999997" x2="234.4" y2="244.02319999999997" stroke="#333" stroke-width="1.1"/>
<line x1="229.20000000000002" y1="248.6488" x2="234.4" y2="248.6488" stroke="#333" stroke-width="1.1"/>
<circle cx="176.2" cy="218.3" r="2.4" fill="#111"/>
<circle cx="204.2" cy="224.9" r="2.4" fill="#111"/>
<circle cx="231.8" cy="246.3" r="2.4" fill="#111"/>
<polygon points="228.65,198.60 229.38,200.39 231.31,200.53 229.84,201.79 230.30,203.67 228.65,202.65 227.00,203.67 227.46,201.79 225.99,200.53 227.92,200.39" fill="#1a1a1a"/>
<polygon points="233.95,198.60 234.68,200.39 236.61,200.53 235.14,201.79 235.60,203.67 233.95,202.65 232.30,203.67 232.76,201.79 231.29,200.53 233.22,200.39" fill="#1a1a1a"/>
<line x1="277.2" y1="175.3" x2="277.2" y2="258.4" stroke="#3a3a3a" stroke-width="1"/>
<line x1="274.7" y1="257.9" x2="277.2" y2="257.9" stroke="#3a3a3a" stroke-width="1"/>
<line x1="274.7" y1="241.38" x2="277.2" y2="241.38" stroke="#3a3a3a" stroke-width="1"/>
<line x1="274.7" y1="224.85999999999999" x2="277.2" y2="224.85999999999999" stroke="#3a3a3a" stroke-width="1"/>
<line x1="274.7" y1="208.34" x2="277.2" y2="208.34" stroke="#3a3a3a" stroke-width="1"/>
<line x1="274.7" y1="191.82" x2="277.2" y2="191.82" stroke="#3a3a3a" stroke-width="1"/>
<line x1="274.7" y1="175.3" x2="277.2" y2="175.3" stroke="#3a3a3a" stroke-width="1"/>
<text transform="translate(268.20,261.90) scale(0.88,1)" font-size="11.5" text-anchor="end" fill="#222" stroke="#222" stroke-width="0.25">0</text>
<text transform="translate(268.20,245.38) scale(0.88,1)" font-size="11.5" text-anchor="end" fill="#222" stroke="#222" stroke-width="0.25">10</text>
<text transform="translate(268.20,228.86) scale(0.88,1)" font-size="11.5" text-anchor="end" fill="#222" stroke="#222" stroke-width="0.25">20</text>
<text transform="translate(268.20,212.34) scale(0.88,1)" font-size="11.5" text-anchor="end" fill="#222" stroke="#222" stroke-width="0.25">30</text>
<text transform="translate(268.20,195.82) scale(0.88,1)" font-size="11.5" text-anchor="end" fill="#222" stroke="#222" stroke-width="0.25">40</text>
<text transform="translate(268.20,179.30) scale(0.88,1)" font-size="11.5" text-anchor="end" fill="#222" stroke="#222" stroke-width="0.25">50</text>
<line x1="274.7" y1="257.9" x2="360.6" y2="257.9" stroke="#3a3a3a" stroke-width="1.2"/>
<line x1="290.6" y1="257.9" x2="290.6" y2="260.4" stroke="#3a3a3a" stroke-width="1"/>
<text transform="translate(290.6,275.70) scale(0.88,1)" font-size="11.5" text-anchor="middle" fill="#222" stroke="#222" stroke-width="0.25">0</text>
<line x1="318.6" y1="257.9" x2="318.6" y2="260.4" stroke="#3a3a3a" stroke-width="1"/>
<text transform="translate(318.6,275.70) scale(0.88,1)" font-size="11.5" text-anchor="middle" fill="#222" stroke="#222" stroke-width="0.25">1</text>
<line x1="346.6" y1="257.9" x2="346.6" y2="260.4" stroke="#3a3a3a" stroke-width="1"/>
<text transform="translate(346.6,275.70) scale(0.88,1)" font-size="11.5" text-anchor="middle" fill="#222" stroke="#222" stroke-width="0.25">2</text>
<text transform="translate(285.90000000000003,164.1) scale(0.87,1)" font-size="13.5" fill="#1a1a1a" stroke="#1a1a1a" stroke-width="0.25" textLength="41.03" lengthAdjust="spacing">Bcl-xL</text>
<polyline points="290.6,257.4 318.6,254.9 346.6,251.8" fill="none" stroke="#7e7e7e" stroke-width="1.05"/>
<path d="M288.40000000000003,257.4 L290.6,255.2 L292.8,257.4 L290.6,259.6 Z" fill="#6a6a6a"/>
<path d="M316.40000000000003,254.9 L318.6,252.7 L320.8,254.9 L318.6,257.1 Z" fill="#6a6a6a"/>
<path d="M344.40000000000003,251.8 L346.6,249.6 L348.8,251.8 L346.6,254.0 Z" fill="#6a6a6a"/>
<polyline points="290.6,257.4 318.6,250.0 346.6,193.6" fill="none" stroke="#111" stroke-width="1.0"/>
<line x1="346.6" y1="187.0292" x2="346.6" y2="199.58440000000002" stroke="#555" stroke-width="1"/>
<line x1="344.0" y1="187.0292" x2="349.20000000000005" y2="187.0292" stroke="#333" stroke-width="1.1"/>
<line x1="344.0" y1="199.58440000000002" x2="349.20000000000005" y2="199.58440000000002" stroke="#333" stroke-width="1.1"/>
<circle cx="290.6" cy="257.4" r="2.4" fill="#111"/>
<circle cx="318.6" cy="250.0" r="2.4" fill="#111"/>
<circle cx="346.6" cy="193.6" r="2.4" fill="#111"/>
<polygon points="316.35,228.50 317.08,230.29 319.01,230.43 317.54,231.69 318.00,233.57 316.35,232.55 314.70,233.57 315.16,231.69 313.69,230.43 315.62,230.29" fill="#1a1a1a"/>
<polygon points="321.65,228.50 322.38,230.29 324.31,230.43 322.84,231.69 323.30,233.57 321.65,232.55 320.00,233.57 320.46,231.69 318.99,230.43 320.92,230.29" fill="#1a1a1a"/>
<polygon points="341.70,176.70 342.43,178.49 344.36,178.63 342.89,179.89 343.35,181.77 341.70,180.75 340.05,181.77 340.51,179.89 339.04,178.63 340.97,178.49" fill="#1a1a1a"/>
<polygon points="347.00,176.70 347.73,178.49 349.66,178.63 348.19,179.89 348.65,181.77 347.00,180.75 345.35,181.77 345.81,179.89 344.34,178.63 346.27,178.49" fill="#1a1a1a"/>
<polygon points="352.30,176.70 353.03,178.49 354.96,178.63 353.49,179.89 353.95,181.77 352.30,180.75 350.65,181.77 351.11,179.89 349.64,178.63 351.57,178.49" fill="#1a1a1a"/>
<line x1="45" y1="313.0" x2="45" y2="395.9" stroke="#3a3a3a" stroke-width="1"/>
<line x1="42.5" y1="395.4" x2="45" y2="395.4" stroke="#3a3a3a" stroke-width="1"/>
<line x1="42.5" y1="374.79999999999995" x2="45" y2="374.79999999999995" stroke="#3a3a3a" stroke-width="1"/>
<line x1="42.5" y1="354.2" x2="45" y2="354.2" stroke="#3a3a3a" stroke-width="1"/>
<line x1="42.5" y1="333.59999999999997" x2="45" y2="333.59999999999997" stroke="#3a3a3a" stroke-width="1"/>
<line x1="42.5" y1="313.0" x2="45" y2="313.0" stroke="#3a3a3a" stroke-width="1"/>
<text transform="translate(36.20,399.40) scale(0.88,1)" font-size="11.5" text-anchor="end" fill="#222" stroke="#222" stroke-width="0.25">0</text>
<text transform="translate(36.20,378.80) scale(0.88,1)" font-size="11.5" text-anchor="end" fill="#222" stroke="#222" stroke-width="0.25">10</text>
<text transform="translate(36.20,358.20) scale(0.88,1)" font-size="11.5" text-anchor="end" fill="#222" stroke="#222" stroke-width="0.25">20</text>
<text transform="translate(36.20,337.60) scale(0.88,1)" font-size="11.5" text-anchor="end" fill="#222" stroke="#222" stroke-width="0.25">30</text>
<text transform="translate(36.20,317.00) scale(0.88,1)" font-size="11.5" text-anchor="end" fill="#222" stroke="#222" stroke-width="0.25">40</text>
<line x1="42.5" y1="395.4" x2="127.8" y2="395.4" stroke="#3a3a3a" stroke-width="1.2"/>
<line x1="58.4" y1="395.4" x2="58.4" y2="397.9" stroke="#3a3a3a" stroke-width="1"/>
<text transform="translate(58.4,413.20) scale(0.88,1)" font-size="11.5" text-anchor="middle" fill="#222" stroke="#222" stroke-width="0.25">0</text>
<line x1="85.9" y1="395.4" x2="85.9" y2="397.9" stroke="#3a3a3a" stroke-width="1"/>
<text transform="translate(85.9,413.20) scale(0.88,1)" font-size="11.5" text-anchor="middle" fill="#222" stroke="#222" stroke-width="0.25">1</text>
<line x1="113.8" y1="395.4" x2="113.8" y2="397.9" stroke="#3a3a3a" stroke-width="1"/>
<text transform="translate(113.8,413.20) scale(0.88,1)" font-size="11.5" text-anchor="middle" fill="#222" stroke="#222" stroke-width="0.25">2</text>
<text transform="translate(52.7,302.5) scale(0.87,1)" font-size="13.5" fill="#1a1a1a" stroke="#1a1a1a" stroke-width="0.25" textLength="22.41" lengthAdjust="spacing">Nix</text>
<polyline points="58.4,392.9 85.9,390.7 113.8,384.9" fill="none" stroke="#7e7e7e" stroke-width="1.05"/>
<path d="M56.199999999999996,392.9 L58.4,390.7 L60.6,392.9 L58.4,395.1 Z" fill="#6a6a6a"/>
<path d="M83.7,390.7 L85.9,388.5 L88.10000000000001,390.7 L85.9,392.9 Z" fill="#6a6a6a"/>
<path d="M111.6,384.9 L113.8,382.7 L116.0,384.9 L113.8,387.1 Z" fill="#6a6a6a"/>
<polyline points="58.4,392.9 85.9,382.6 113.8,331.7" fill="none" stroke="#111" stroke-width="1.0"/>
<line x1="113.8" y1="325.772" x2="113.8" y2="336.69" stroke="#555" stroke-width="1"/>
<line x1="111.2" y1="325.772" x2="116.39999999999999" y2="325.772" stroke="#333" stroke-width="1.1"/>
<line x1="111.2" y1="336.69" x2="116.39999999999999" y2="336.69" stroke="#333" stroke-width="1.1"/>
<circle cx="58.4" cy="392.9" r="2.4" fill="#111"/>
<circle cx="85.9" cy="382.6" r="2.4" fill="#111"/>
<circle cx="113.8" cy="331.7" r="2.4" fill="#111"/>
<polygon points="82.95,363.20 83.68,364.99 85.61,365.13 84.14,366.39 84.60,368.27 82.95,367.25 81.30,368.27 81.76,366.39 80.29,365.13 82.22,364.99" fill="#1a1a1a"/>
<polygon points="88.25,363.20 88.98,364.99 90.91,365.13 89.44,366.39 89.90,368.27 88.25,367.25 86.60,368.27 87.06,366.39 85.59,365.13 87.52,364.99" fill="#1a1a1a"/>
<polygon points="108.60,314.30 109.33,316.09 111.26,316.23 109.79,317.49 110.25,319.37 108.60,318.35 106.95,319.37 107.41,317.49 105.94,316.23 107.87,316.09" fill="#1a1a1a"/>
<polygon points="113.90,314.30 114.63,316.09 116.56,316.23 115.09,317.49 115.55,319.37 113.90,318.35 112.25,319.37 112.71,317.49 111.24,316.23 113.17,316.09" fill="#1a1a1a"/>
<polygon points="119.20,314.30 119.93,316.09 121.86,316.23 120.39,317.49 120.85,319.37 119.20,318.35 117.55,319.37 118.01,317.49 116.54,316.23 118.47,316.09" fill="#1a1a1a"/>
<line x1="162.5" y1="313.0" x2="162.5" y2="395.9" stroke="#3a3a3a" stroke-width="1"/>
<line x1="160.0" y1="395.4" x2="162.5" y2="395.4" stroke="#3a3a3a" stroke-width="1"/>
<line x1="160.0" y1="374.79999999999995" x2="162.5" y2="374.79999999999995" stroke="#3a3a3a" stroke-width="1"/>
<line x1="160.0" y1="354.2" x2="162.5" y2="354.2" stroke="#3a3a3a" stroke-width="1"/>
<line x1="160.0" y1="333.6" x2="162.5" y2="333.6" stroke="#3a3a3a" stroke-width="1"/>
<line x1="160.0" y1="313.0" x2="162.5" y2="313.0" stroke="#3a3a3a" stroke-width="1"/>
<text transform="translate(154.60,399.40) scale(0.88,1)" font-size="11.5" text-anchor="end" fill="#222" stroke="#222" stroke-width="0.25" textLength="17.73" lengthAdjust="spacing">0.0</text>
<text transform="translate(154.60,378.80) scale(0.88,1)" font-size="11.5" text-anchor="end" fill="#222" stroke="#222" stroke-width="0.25" textLength="17.73" lengthAdjust="spacing">0.1</text>
<text transform="translate(154.60,358.20) scale(0.88,1)" font-size="11.5" text-anchor="end" fill="#222" stroke="#222" stroke-width="0.25" textLength="17.73" lengthAdjust="spacing">0.2</text>
<text transform="translate(154.60,337.60) scale(0.88,1)" font-size="11.5" text-anchor="end" fill="#222" stroke="#222" stroke-width="0.25" textLength="17.73" lengthAdjust="spacing">0.3</text>
<text transform="translate(154.60,317.00) scale(0.88,1)" font-size="11.5" text-anchor="end" fill="#222" stroke="#222" stroke-width="0.25" textLength="17.73" lengthAdjust="spacing">0.4</text>
<line x1="160.0" y1="395.4" x2="244.5" y2="395.4" stroke="#3a3a3a" stroke-width="1.2"/>
<line x1="176" y1="395.4" x2="176" y2="397.9" stroke="#3a3a3a" stroke-width="1"/>
<text transform="translate(176,413.20) scale(0.88,1)" font-size="11.5" text-anchor="middle" fill="#222" stroke="#222" stroke-width="0.25">0</text>
<line x1="203.3" y1="395.4" x2="203.3" y2="397.9" stroke="#3a3a3a" stroke-width="1"/>
<text transform="translate(203.3,413.20) scale(0.88,1)" font-size="11.5" text-anchor="middle" fill="#222" stroke="#222" stroke-width="0.25">1</text>
<line x1="230.5" y1="395.4" x2="230.5" y2="397.9" stroke="#3a3a3a" stroke-width="1"/>
<text transform="translate(230.5,413.20) scale(0.88,1)" font-size="11.5" text-anchor="middle" fill="#222" stroke="#222" stroke-width="0.25">2</text>
<text transform="translate(169.4,302.5) scale(0.87,1)" font-size="13.5" fill="#1a1a1a" stroke="#1a1a1a" stroke-width="0.25" textLength="27.01" lengthAdjust="spacing">Bad</text>
<polyline points="176.0,362.0 203.3,352.6 230.5,348.0" fill="none" stroke="#7e7e7e" stroke-width="1.05"/>
<line x1="176" y1="357.28999999999996" x2="176" y2="366.76599999999996" stroke="#7a7a7a" stroke-width="1"/>
<line x1="173.4" y1="357.28999999999996" x2="178.6" y2="357.28999999999996" stroke="#6a6a6a" stroke-width="1.1"/>
<line x1="173.4" y1="366.76599999999996" x2="178.6" y2="366.76599999999996" stroke="#6a6a6a" stroke-width="1.1"/>
<line x1="203.3" y1="350.49199999999996" x2="203.3" y2="354.61199999999997" stroke="#7a7a7a" stroke-width="1"/>
<line x1="200.70000000000002" y1="350.49199999999996" x2="205.9" y2="350.49199999999996" stroke="#6a6a6a" stroke-width="1.1"/>
<line x1="200.70000000000002" y1="354.61199999999997" x2="205.9" y2="354.61199999999997" stroke="#6a6a6a" stroke-width="1.1"/>
<path d="M173.8,362.0 L176,359.8 L178.2,362.0 L176,364.2 Z" fill="#6a6a6a"/>
<path d="M201.10000000000002,352.6 L203.3,350.4 L205.5,352.6 L203.3,354.8 Z" fill="#6a6a6a"/>
<path d="M228.3,348.0 L230.5,345.8 L232.7,348.0 L230.5,350.2 Z" fill="#6a6a6a"/>
<polyline points="176.0,357.3 203.3,341.4 230.5,381.8" fill="none" stroke="#111" stroke-width="1.0"/>
<line x1="176" y1="351.522" x2="176" y2="362.852" stroke="#555" stroke-width="1"/>
<line x1="173.4" y1="351.522" x2="178.6" y2="351.522" stroke="#333" stroke-width="1.1"/>
<line x1="173.4" y1="362.852" x2="178.6" y2="362.852" stroke="#333" stroke-width="1.1"/>
<line x1="203.3" y1="330.098" x2="203.3" y2="352.758" stroke="#555" stroke-width="1"/>
<line x1="200.70000000000002" y1="330.098" x2="205.9" y2="330.098" stroke="#333" stroke-width="1.1"/>
<line x1="200.70000000000002" y1="352.758" x2="205.9" y2="352.758" stroke="#333" stroke-width="1.1"/>
<line x1="230.5" y1="379.74399999999997" x2="230.5" y2="383.864" stroke="#555" stroke-width="1"/>
<line x1="227.9" y1="379.74399999999997" x2="233.1" y2="379.74399999999997" stroke="#333" stroke-width="1.1"/>
<line x1="227.9" y1="383.864" x2="233.1" y2="383.864" stroke="#333" stroke-width="1.1"/>
<circle cx="176" cy="357.3" r="2.4" fill="#111"/>
<circle cx="203.3" cy="341.4" r="2.4" fill="#111"/>
<circle cx="230.5" cy="381.8" r="2.4" fill="#111"/>
<polygon points="229.30,328.30 230.03,330.09 231.96,330.23 230.49,331.49 230.95,333.37 229.30,332.35 227.65,333.37 228.11,331.49 226.64,330.23 228.57,330.09" fill="#1a1a1a"/>
<polygon points="234.60,328.30 235.33,330.09 237.26,330.23 235.79,331.49 236.25,333.37 234.60,332.35 232.95,333.37 233.41,331.49 231.94,330.23 233.87,330.09" fill="#1a1a1a"/>
<polygon points="239.90,328.30 240.63,330.09 242.56,330.23 241.09,331.49 241.55,333.37 239.90,332.35 238.25,333.37 238.71,331.49 237.24,330.23 239.17,330.09" fill="#1a1a1a"/>
<line x1="280.3" y1="313.0" x2="280.3" y2="395.9" stroke="#3a3a3a" stroke-width="1"/>
<line x1="277.8" y1="395.4" x2="280.3" y2="395.4" stroke="#3a3a3a" stroke-width="1"/>
<line x1="277.8" y1="367.93333333333334" x2="280.3" y2="367.93333333333334" stroke="#3a3a3a" stroke-width="1"/>
<line x1="277.8" y1="340.46666666666664" x2="280.3" y2="340.46666666666664" stroke="#3a3a3a" stroke-width="1"/>
<line x1="277.8" y1="313.0" x2="280.3" y2="313.0" stroke="#3a3a3a" stroke-width="1"/>
<text transform="translate(271.50,399.40) scale(0.88,1)" font-size="11.5" text-anchor="end" fill="#222" stroke="#222" stroke-width="0.25" textLength="17.73" lengthAdjust="spacing">0.0</text>
<text transform="translate(271.50,371.93) scale(0.88,1)" font-size="11.5" text-anchor="end" fill="#222" stroke="#222" stroke-width="0.25" textLength="17.73" lengthAdjust="spacing">0.2</text>
<text transform="translate(271.50,344.47) scale(0.88,1)" font-size="11.5" text-anchor="end" fill="#222" stroke="#222" stroke-width="0.25" textLength="17.73" lengthAdjust="spacing">0.4</text>
<text transform="translate(271.50,317.00) scale(0.88,1)" font-size="11.5" text-anchor="end" fill="#222" stroke="#222" stroke-width="0.25" textLength="17.73" lengthAdjust="spacing">0.6</text>
<line x1="277.8" y1="395.4" x2="362.4" y2="395.4" stroke="#3a3a3a" stroke-width="1.2"/>
<line x1="293.4" y1="395.4" x2="293.4" y2="397.9" stroke="#3a3a3a" stroke-width="1"/>
<text transform="translate(293.4,413.20) scale(0.88,1)" font-size="11.5" text-anchor="middle" fill="#222" stroke="#222" stroke-width="0.25">0</text>
<line x1="321.2" y1="395.4" x2="321.2" y2="397.9" stroke="#3a3a3a" stroke-width="1"/>
<text transform="translate(321.2,413.20) scale(0.88,1)" font-size="11.5" text-anchor="middle" fill="#222" stroke="#222" stroke-width="0.25">1</text>
<line x1="348.4" y1="395.4" x2="348.4" y2="397.9" stroke="#3a3a3a" stroke-width="1"/>
<text transform="translate(348.4,413.20) scale(0.88,1)" font-size="11.5" text-anchor="middle" fill="#222" stroke="#222" stroke-width="0.25">2</text>
<text transform="translate(287.90000000000003,302.5) scale(0.87,1)" font-size="13.5" fill="#1a1a1a" stroke="#1a1a1a" stroke-width="0.25" textLength="22.41" lengthAdjust="spacing">Bid</text>
<polyline points="293.4,336.9 321.2,346.5 348.4,355.2" fill="none" stroke="#7e7e7e" stroke-width="1.05"/>
<line x1="293.4" y1="326.73333333333335" x2="293.4" y2="345.96" stroke="#7a7a7a" stroke-width="1"/>
<line x1="290.79999999999995" y1="326.73333333333335" x2="296.0" y2="326.73333333333335" stroke="#6a6a6a" stroke-width="1.1"/>
<line x1="290.79999999999995" y1="345.96" x2="296.0" y2="345.96" stroke="#6a6a6a" stroke-width="1.1"/>
<line x1="321.2" y1="341.01599999999996" x2="321.2" y2="353.23866666666663" stroke="#7a7a7a" stroke-width="1"/>
<line x1="318.59999999999997" y1="341.01599999999996" x2="323.8" y2="341.01599999999996" stroke="#6a6a6a" stroke-width="1.1"/>
<line x1="318.59999999999997" y1="353.23866666666663" x2="323.8" y2="353.23866666666663" stroke="#6a6a6a" stroke-width="1.1"/>
<line x1="348.4" y1="353.1013333333333" x2="348.4" y2="357.2213333333333" stroke="#7a7a7a" stroke-width="1"/>
<line x1="345.79999999999995" y1="353.1013333333333" x2="351.0" y2="353.1013333333333" stroke="#6a6a6a" stroke-width="1.1"/>
<line x1="345.79999999999995" y1="357.2213333333333" x2="351.0" y2="357.2213333333333" stroke="#6a6a6a" stroke-width="1.1"/>
<path d="M291.2,336.9 L293.4,334.7 L295.59999999999997,336.9 L293.4,339.1 Z" fill="#6a6a6a"/>
<path d="M319.0,346.5 L321.2,344.3 L323.4,346.5 L321.2,348.7 Z" fill="#6a6a6a"/>
<path d="M346.2,355.2 L348.4,353.0 L350.59999999999997,355.2 L348.4,357.4 Z" fill="#6a6a6a"/>
<polyline points="293.4,345.0 321.2,360.7 348.4,388.5" fill="none" stroke="#111" stroke-width="1.0"/>
<line x1="293.4" y1="341.428" x2="293.4" y2="349.53066666666666" stroke="#555" stroke-width="1"/>
<line x1="290.79999999999995" y1="341.428" x2="296.0" y2="341.428" stroke="#333" stroke-width="1.1"/>
<line x1="290.79999999999995" y1="349.53066666666666" x2="296.0" y2="349.53066666666666" stroke="#333" stroke-width="1.1"/>
<line x1="321.2" y1="354.61199999999997" x2="321.2" y2="366.83466666666664" stroke="#555" stroke-width="1"/>
<line x1="318.59999999999997" y1="354.61199999999997" x2="323.8" y2="354.61199999999997" stroke="#333" stroke-width="1.1"/>
<line x1="318.59999999999997" y1="366.83466666666664" x2="323.8" y2="366.83466666666664" stroke="#333" stroke-width="1.1"/>
<circle cx="293.4" cy="345.0" r="2.4" fill="#111"/>
<circle cx="321.2" cy="360.7" r="2.4" fill="#111"/>
<circle cx="348.4" cy="388.5" r="2.4" fill="#111"/>
<polygon points="322.00,325.70 322.73,327.49 324.66,327.63 323.19,328.89 323.65,330.77 322.00,329.75 320.35,330.77 320.81,328.89 319.34,327.63 321.27,327.49" fill="#1a1a1a"/>
<polygon points="346.60,336.50 347.33,338.29 349.26,338.43 347.79,339.69 348.25,341.57 346.60,340.55 344.95,341.57 345.41,339.69 343.94,338.43 345.87,338.29" fill="#1a1a1a"/>
<polygon points="351.90,336.50 352.63,338.29 354.56,338.43 353.09,339.69 353.55,341.57 351.90,340.55 350.25,341.57 350.71,339.69 349.24,338.43 351.17,338.29" fill="#1a1a1a"/>
<polygon points="357.20,336.50 357.93,338.29 359.86,338.43 358.39,339.69 358.85,341.57 357.20,340.55 355.55,341.57 356.01,339.69 354.54,338.43 356.47,338.29" fill="#1a1a1a"/>
<text transform="translate(11.8,79.2) rotate(-90)" x="0" y="0" font-size="14" text-anchor="middle" fill="#222" stroke="#222" stroke-width="0.12" textLength="75.5" lengthAdjust="spacingAndGlyphs">relative expr.</text>
<text transform="translate(11.8,216.8) rotate(-90)" x="0" y="0" font-size="14" text-anchor="middle" fill="#222" stroke="#222" stroke-width="0.12" textLength="75.5" lengthAdjust="spacingAndGlyphs">relative expr.</text>
<text transform="translate(11.8,354.1) rotate(-90)" x="0" y="0" font-size="14" text-anchor="middle" fill="#222" stroke="#222" stroke-width="0.12" textLength="75.5" lengthAdjust="spacingAndGlyphs">relative expr.</text>
<text transform="translate(5.5,139.5) scale(0.87,1)" font-size="13.2" fill="#222" stroke="#222" stroke-width="0.25" textLength="27.93" lengthAdjust="spacing">Day</text>
<text transform="translate(12.5,278.5) scale(0.87,1)" font-size="13.2" fill="#222" stroke="#222" stroke-width="0.25" textLength="27.93" lengthAdjust="spacing">Day</text>
<text transform="translate(11.8,414.6) scale(0.87,1)" font-size="13.2" fill="#222" stroke="#222" stroke-width="0.25" textLength="27.93" lengthAdjust="spacing">Day</text>
<text x="0.3" y="9.6" font-size="15.5" text-anchor="start" font-weight="bold" fill="#111" stroke="#111" stroke-width="0.25" >a</text>
<text x="441.4" y="164.3" font-size="16" text-anchor="start" font-weight="bold" fill="#111" stroke="#111" stroke-width="0.25" >b</text>
<line x1="366.7" y1="168.4" x2="378.8" y2="168.4" stroke="#111" stroke-width="1.1"/>
<circle cx="371.9" cy="168.4" r="2.3" fill="#111"/>
<text transform="translate(383.0,172.7) scale(0.87,1)" font-size="13" fill="#222" stroke="#222" stroke-width="0.25" textLength="46.55" lengthAdjust="spacing">Control</text>
<line x1="366.7" y1="192.6" x2="378.8" y2="192.6" stroke="#7e7e7e" stroke-width="1.05"/>
<path d="M369.7,192.6 L371.9,190.4 L374.1,192.6 L371.9,194.8 Z" fill="#6a6a6a"/>
<text transform="translate(383.0,196.8) scale(0.87,1)" font-size="13" fill="#222" stroke="#222" stroke-width="0.25" textLength="44.02" lengthAdjust="spacing">D816V</text>
<defs><filter id="bl" x="-30%" y="-100%" width="160%" height="300%"><feGaussianBlur stdDeviation="1.0"/></filter><filter id="bl2" x="-30%" y="-100%" width="160%" height="300%"><feGaussianBlur stdDeviation="1.6"/></filter></defs>
<rect x="477" y="216.8" width="134" height="25.899999999999977" fill="#b6b6b6"/>
<rect x="477" y="247.2" width="134" height="24.19999999999999" fill="#bdbdbd"/>
<rect x="477" y="276.8" width="134" height="25.899999999999977" fill="#b7b7b7"/>
<rect x="477" y="307.5" width="134" height="26.19999999999999" fill="#e9e9e9"/>
<rect x="477" y="338.2" width="134" height="29.0" fill="#d4d4d4"/>
<rect x="486" y="226.10" width="24.40" height="1.6" rx="0.8" fill="#999" opacity="0.8" filter="url(#bl)"/>
<ellipse cx="486.5" cy="226.5" rx="1.2" ry="1.2" fill="#555" opacity="0.9" filter="url(#bl)"/>
<rect x="520.1" y="225.70" width="18.20" height="3.8" rx="1.9" fill="#2a2a2a" opacity="1" filter="url(#bl)"/>
<rect x="520.1" y="231.45" width="18.20" height="3.1" rx="1.55" fill="#303030" opacity="1" filter="url(#bl)"/>
<rect x="576.9" y="226.00" width="25.70" height="3.8" rx="1.9" fill="#444" opacity="1" filter="url(#bl)"/>
<rect x="576.9" y="232.10" width="25.70" height="3.0" rx="1.5" fill="#3c3c3c" opacity="1" filter="url(#bl)"/>
<ellipse cx="580" cy="227.8" rx="3" ry="1.6" fill="#333" opacity="0.7" filter="url(#bl)"/>
<ellipse cx="600.3" cy="227.9" rx="2.4" ry="2.2" fill="#111" opacity="1" filter="url(#bl)"/>
<ellipse cx="600.3" cy="233.6" rx="2.4" ry="1.6" fill="#151515" opacity="1" filter="url(#bl)"/>
<ellipse cx="580" cy="233.5" rx="3" ry="1.3" fill="#333" opacity="0.6" filter="url(#bl)"/>
<rect x="483.9" y="257.30" width="25.70" height="5.6" rx="2.8" fill="#787878" opacity="1" filter="url(#bl)"/>
<ellipse cx="489.5" cy="260.4" rx="5.5" ry="3.0" fill="#4a4a4a" opacity="0.9" filter="url(#bl)"/>
<ellipse cx="505" cy="259.6" rx="4" ry="2.6" fill="#606060" opacity="0.9" filter="url(#bl)"/>
<rect x="519.7" y="257.40" width="17.10" height="4.4" rx="2.2" fill="#959595" opacity="1" filter="url(#bl)"/>
<ellipse cx="523.5" cy="259.8" rx="3.2" ry="2.2" fill="#808080" opacity="1" filter="url(#bl)"/>
<ellipse cx="533" cy="259.4" rx="3.2" ry="2.2" fill="#858585" opacity="1" filter="url(#bl)"/>
<rect x="545.4" y="255.30" width="25.40" height="7.6" rx="3.8" fill="#222" opacity="1" filter="url(#bl)"/>
<ellipse cx="582" cy="260.5" rx="4" ry="2.4" fill="#9c9c9c" opacity="1" filter="url(#bl)"/>
<ellipse cx="600.5" cy="260.5" rx="4" ry="2.4" fill="#999" opacity="1" filter="url(#bl)"/>
<rect x="486.4" y="285.30" width="29.60" height="7.4" rx="3.7" fill="#151515" opacity="1" filter="url(#bl)"/>
<rect x="519.3" y="285.80" width="22.10" height="7.2" rx="3.6" fill="#151515" opacity="1" filter="url(#bl)"/>
<rect x="544.6" y="285.90" width="25.20" height="6.6" rx="3.3" fill="#151515" opacity="1" filter="url(#bl)"/>
<rect x="573.3" y="286.30" width="27.80" height="7.0" rx="3.5" fill="#151515" opacity="1" filter="url(#bl)"/>
<rect x="484" y="311.5" width="24.50" height="5.50" rx="3" fill="#9a9a9a" opacity="0.7" filter="url(#bl2)"/>
<rect x="484" y="314" width="24.50" height="10.00" rx="3" fill="#747474" opacity="1" filter="url(#bl2)"/>
<ellipse cx="491" cy="318.5" rx="5.5" ry="4.2" fill="#666" opacity="1" filter="url(#bl2)"/>
<ellipse cx="504" cy="319" rx="4" ry="4" fill="#6e6e6e" opacity="1" filter="url(#bl2)"/>
<rect x="516" y="312.5" width="25.00" height="5.50" rx="3" fill="#555" opacity="0.6" filter="url(#bl2)"/>
<rect x="516" y="314.5" width="25.00" height="10.50" rx="3.5" fill="#0e0e0e" opacity="1" filter="url(#bl2)"/>
<rect x="580" y="318.5" width="22.20" height="8.50" rx="3" fill="#6e6e6e" opacity="1" filter="url(#bl2)"/>
<ellipse cx="584.5" cy="322.6" rx="4" ry="3.6" fill="#3a3a3a" opacity="1" filter="url(#bl2)"/>
<ellipse cx="598" cy="322.8" rx="4" ry="3.6" fill="#333" opacity="1" filter="url(#bl2)"/>
<rect x="477" y="310" width="2.00" height="6.00" rx="0.5" fill="#666" opacity="1" filter="url(#bl)"/>
<rect x="486.9" y="347.70" width="25.80" height="7.4" rx="3.7" fill="#111" opacity="1" filter="url(#bl)"/>
<rect x="516.7" y="347.70" width="25.80" height="7.4" rx="3.7" fill="#111" opacity="1" filter="url(#bl)"/>
<rect x="548.5" y="348.40" width="23.80" height="6.0" rx="3.0" fill="#111" opacity="1" filter="url(#bl)"/>
<rect x="577.3" y="348.00" width="24.20" height="6.8" rx="3.4" fill="#111" opacity="1" filter="url(#bl)"/>
<text x="462.3" y="226.0" font-size="12.2" text-anchor="end" font-weight="normal" fill="#1e1e1e" stroke="#1e1e1e" stroke-width="0.25" >170</text>
<text x="462.3" y="239.10000000000002" font-size="12.2" text-anchor="end" font-weight="normal" fill="#1e1e1e" stroke="#1e1e1e" stroke-width="0.25" >130</text>
<text x="462.3" y="274.90000000000003" font-size="12.2" text-anchor="end" font-weight="normal" fill="#1e1e1e" stroke="#1e1e1e" stroke-width="0.25" >24</text>
<text x="462.3" y="296.8" font-size="12.2" text-anchor="end" font-weight="normal" fill="#1e1e1e" stroke="#1e1e1e" stroke-width="0.25" >40</text>
<text x="462.3" y="317.0" font-size="12.2" text-anchor="end" font-weight="normal" fill="#1e1e1e" stroke="#1e1e1e" stroke-width="0.25" >72</text>
<text x="462.3" y="336.3" font-size="12.2" text-anchor="end" font-weight="normal" fill="#1e1e1e" stroke="#1e1e1e" stroke-width="0.25" >55</text>
<text x="462.3" y="357.90000000000003" font-size="12.2" text-anchor="end" font-weight="normal" fill="#1e1e1e" stroke="#1e1e1e" stroke-width="0.25" >40</text>
<line x1="469" y1="224.4" x2="475.1" y2="224.4" stroke="#333" stroke-width="1.1"/>
<line x1="469" y1="231.8" x2="475.1" y2="231.8" stroke="#333" stroke-width="1.1"/>
<line x1="469" y1="271.1" x2="475.1" y2="271.1" stroke="#333" stroke-width="1.1"/>
<line x1="469" y1="292.7" x2="475.1" y2="292.7" stroke="#333" stroke-width="1.1"/>
<line x1="469" y1="312.3" x2="475.1" y2="312.3" stroke="#333" stroke-width="1.1"/>
<line x1="469" y1="332.1" x2="475.1" y2="332.1" stroke="#333" stroke-width="1.1"/>
<line x1="469" y1="352.9" x2="475.1" y2="352.9" stroke="#333" stroke-width="1.1"/>
<text x="441.3" y="209.7" font-size="12.5" text-anchor="start" font-weight="normal" fill="#1e1e1e" stroke="#1e1e1e" stroke-width="0.25" textLength="25" lengthAdjust="spacingAndGlyphs" >KDa</text>
<text transform="translate(496.4,211.2) rotate(-45)" font-size="13.5" fill="#1e1e1e" stroke="#1e1e1e" stroke-width="0.25" textLength="22" lengthAdjust="spacingAndGlyphs">Ctrl</text>
<text transform="translate(523.2,211.2) rotate(-45)" font-size="13.5" fill="#1e1e1e" stroke="#1e1e1e" stroke-width="0.25" textLength="42" lengthAdjust="spacingAndGlyphs">D816V</text>
<text transform="translate(559.8,211.2) rotate(-45)" font-size="13.5" fill="#1e1e1e" stroke="#1e1e1e" stroke-width="0.25" textLength="22" lengthAdjust="spacingAndGlyphs">Ctrl</text>
<text transform="translate(588.6,211.2) rotate(-45)" font-size="13.5" fill="#1e1e1e" stroke="#1e1e1e" stroke-width="0.25" textLength="42" lengthAdjust="spacingAndGlyphs">D816V</text>
<text x="616.6" y="235" font-size="12.5" text-anchor="start" font-weight="normal" fill="#1e1e1e" stroke="#1e1e1e" stroke-width="0.25" textLength="20.6" lengthAdjust="spacingAndGlyphs" >KIT</text>
<text x="616.6" y="265" font-size="12.5" text-anchor="start" font-weight="normal" fill="#1e1e1e" stroke="#1e1e1e" stroke-width="0.25" textLength="36.6" lengthAdjust="spacingAndGlyphs" >Bcl-xL</text>
<text x="616.2" y="294.8" font-size="12.5" text-anchor="start" font-weight="normal" fill="#1e1e1e" stroke="#1e1e1e" stroke-width="0.25" textLength="38.4" lengthAdjust="spacingAndGlyphs" >ßActin</text>
<text x="617.8" y="325.5" font-size="12.5" text-anchor="start" font-weight="normal" fill="#1e1e1e" stroke="#1e1e1e" stroke-width="0.25" textLength="36.2" lengthAdjust="spacingAndGlyphs" >c-Myc</text>
<text x="616.2" y="357.0" font-size="12.5" text-anchor="start" font-weight="normal" fill="#1e1e1e" stroke="#1e1e1e" stroke-width="0.25" textLength="38.4" lengthAdjust="spacingAndGlyphs" >ßActin</text>
<line x1="483" y1="373.6" x2="539.5" y2="373.6" stroke="#333" stroke-width="1.2"/>
<line x1="547" y1="373.6" x2="603.5" y2="373.6" stroke="#333" stroke-width="1.2"/>
<text x="496.2" y="391.1" font-size="12.8" text-anchor="start" font-weight="normal" fill="#1e1e1e" stroke="#1e1e1e" stroke-width="0.25" textLength="36.8" lengthAdjust="spacingAndGlyphs" >Day 0</text>
<text x="558.2" y="391.1" font-size="12.8" text-anchor="start" font-weight="normal" fill="#1e1e1e" stroke="#1e1e1e" stroke-width="0.25" textLength="36.8" lengthAdjust="spacingAndGlyphs" >Day 2</text>
</svg>
</body></html>
